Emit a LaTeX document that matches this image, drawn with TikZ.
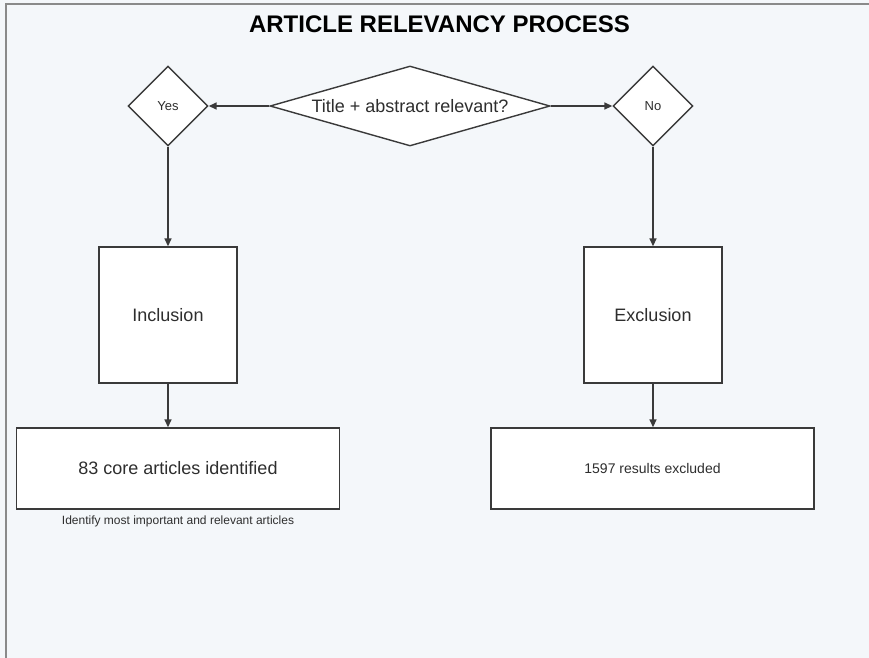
\documentclass[tikz,border=0pt]{standalone}
\usepackage{fontspec}
\setmainfont{Liberation Sans}
\usetikzlibrary{positioning, arrows.meta, shapes.geometric}
\definecolor{paper}{HTML}{F4F7FA}
\definecolor{frameGray}{HTML}{8A8A8A}
\definecolor{ink}{HTML}{2E2E2E}
\definecolor{edge}{HTML}{3A3A3A}

\begin{document}
\begin{tikzpicture}[x=1pt, y=-1pt,
  decide/.style={diamond, draw=edge, fill=white, line width=1.4pt, inner sep=0pt, minimum width=280pt, minimum height=80pt, aspect=3.5, font=\fontsize{18}{20}\selectfont, text=ink},
  answer/.style={diamond, draw=edge, fill=white, line width=1.4pt, inner sep=0pt, minimum size=80pt, font=\fontsize{13}{15}\selectfont, text=ink},
  stage/.style={draw=edge, fill=white, line width=1.4pt, minimum width=138pt, minimum height=136pt, font=\fontsize{18}{20}\selectfont, text=ink},
  result/.style={draw=edge, fill=white, line width=1.4pt, minimum width=323pt, minimum height=81pt, text=ink},
  note/.style={font=\fontsize{12}{14}\selectfont, text=ink},
  flow/.style={draw=edge, line width=1.5pt, -{Triangle[length=8pt, width=7pt]}}]
% page and frame
\useasboundingbox (0,0) rectangle (869,657);
\fill[paper] (-3,-3) rectangle (872,660);
\draw[frameGray, line width=1.5pt] (6,660) -- (6,4) -- (872,4);
\node[font=\bfseries\fontsize{24}{26}\selectfont] (title) at (439.5,24.5) {ARTICLE RELEVANCY PROCESS};
% decision row
\node[decide] (rel) at (410,106) {Title + abstract relevant?};
\node[answer] (yes) at (168,106) {Yes};
\node[answer] (no) at (653,106) {No};
% outcome boxes
\node[stage] (incl) at (168,315) {Inclusion};
\node[stage] (excl) at (653,315) {Exclusion};
\node[result, font=\fontsize{18}{20}\selectfont] (core) at (178,468.5) {83 core articles identified};
\node[result, font=\fontsize{14}{16}\selectfont] (drop) at (652.5,468.5) {1597 results excluded};
\node[note, below=3pt of core] (coreNote) {Identify most important and relevant articles};
% connectors
\draw[flow] (rel.west) -- (yes.east);
\draw[flow] (rel.east) -- (no.west);
\draw[flow] (yes.south) -- (incl.north);
\draw[flow] (no.south) -- (excl.north);
\draw[flow] (incl.south) -- (incl.south |- core.north);
\draw[flow] (excl.south) -- (excl.south |- drop.north);
\end{tikzpicture}
\end{document}
